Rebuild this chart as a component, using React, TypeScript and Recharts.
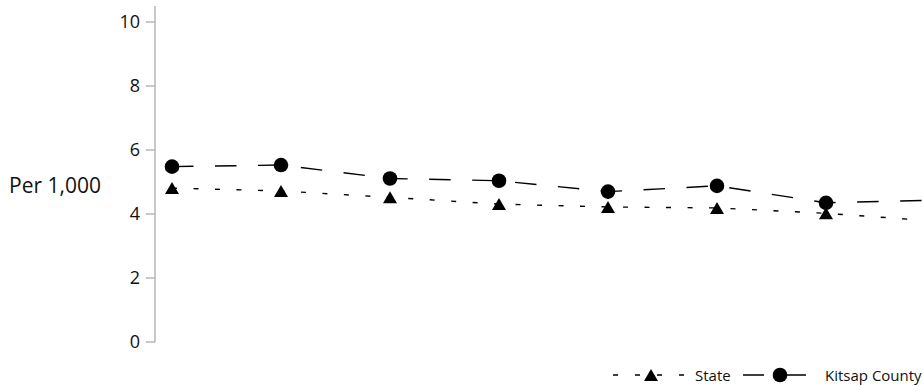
import { LineChart, Line, XAxis, YAxis } from "recharts";

// period index (years are not labelled in the source chart)
const periods = [1, 2, 3, 4, 5, 6, 7, 8];
const kitsapCounty = [5.48, 5.53, 5.11, 5.04, 4.7, 4.88, 4.35, 4.43];
const state = [4.81, 4.72, 4.52, 4.31, 4.22, 4.19, 4.02, 3.78];
const yTicks = [0, 2, 4, 6, 8, 10];

const data = periods.map((p, i) => ({ period: p, kitsap: kitsapCounty[i], state: state[i] }));

const FONT = "'Open Sans', sans-serif";

const Triangle = (props: any) => {
    const { cx, cy } = props;
    if (cx == null || cy == null) return null;
    return <polygon points={`${cx},${cy - 6} ${cx - 7},${cy + 6} ${cx + 7},${cy + 6}`} fill="#000" />;
};

const Circle = (props: any) => {
    const { cx, cy } = props;
    if (cx == null || cy == null) return null;
    return <circle cx={cx} cy={cy} r={7.3} fill="#000" />;
};

const YLabel = (props: any) => {
    const vb = props.viewBox || {};
    return (
        <text x={vb.x + 9} y={vb.y + vb.height / 2 + 19} fontSize={21} fontFamily={FONT} fill="#111">
            Per 1,000
        </text>
    );
};

export default function App() {
    return (
        <div style={{ position: "absolute", left: 0, top: 0, width: 923, height: 386, background: "#fff" }}>
            <LineChart width={923} height={386} data={data} margin={{ top: 6, right: 0, bottom: 44, left: 0 }}>
                <XAxis type="number" dataKey="period" domain={[0.844, 7.89]} allowDataOverflow hide />
                <YAxis
                    width={155}
                    domain={[0, 10.5]}
                    ticks={yTicks}
                    allowDataOverflow
                    axisLine={{ stroke: "#ababab", strokeWidth: 1.3 }}
                    tickLine={{ stroke: "#ababab", strokeWidth: 1.3 }}
                    tickSize={9}
                    tickMargin={6}
                    tick={{ fontSize: 18, fontFamily: FONT, fill: "#111" }}
                    label={<YLabel />}
                />
                <Line
                    dataKey="state"
                    stroke="#000"
                    strokeWidth={1.4}
                    strokeDasharray="5 16.5"
                    dot={<Triangle />}
                    activeDot={false}
                    isAnimationActive={false}
                />
                <Line
                    dataKey="kitsap"
                    stroke="#000"
                    strokeWidth={1.4}
                    strokeDasharray="21.5 21.5"
                    dot={<Circle />}
                    activeDot={false}
                    isAnimationActive={false}
                />
            </LineChart>
            <div style={{ position: "absolute", left: 0, top: 366, width: 923, height: 18, fontFamily: FONT, fontSize: 15, color: "#111" }}>
                <svg style={{ position: "absolute", left: 610, top: 0 }} width={76} height={18}>
                    <line x1={3} y1={9} x2={74} y2={9} stroke="#000" strokeWidth={1.4} strokeDasharray="5 17" />
                    <polygon points="41,3 34,15 48,15" fill="#000" />
                </svg>
                <div style={{ position: "absolute", left: 695, top: 0, lineHeight: "18px", whiteSpace: "nowrap" }}>State</div>
                <svg style={{ position: "absolute", left: 741, top: 0 }} width={68} height={18}>
                    <line x1={2} y1={9} x2={66} y2={9} stroke="#000" strokeWidth={1.4} strokeDasharray="21 21" />
                    <circle cx={39} cy={9} r={7.3} fill="#000" />
                </svg>
                <div style={{ position: "absolute", left: 825, top: 0, lineHeight: "18px", whiteSpace: "nowrap" }}>Kitsap County</div>
            </div>
        </div>
    );
}
